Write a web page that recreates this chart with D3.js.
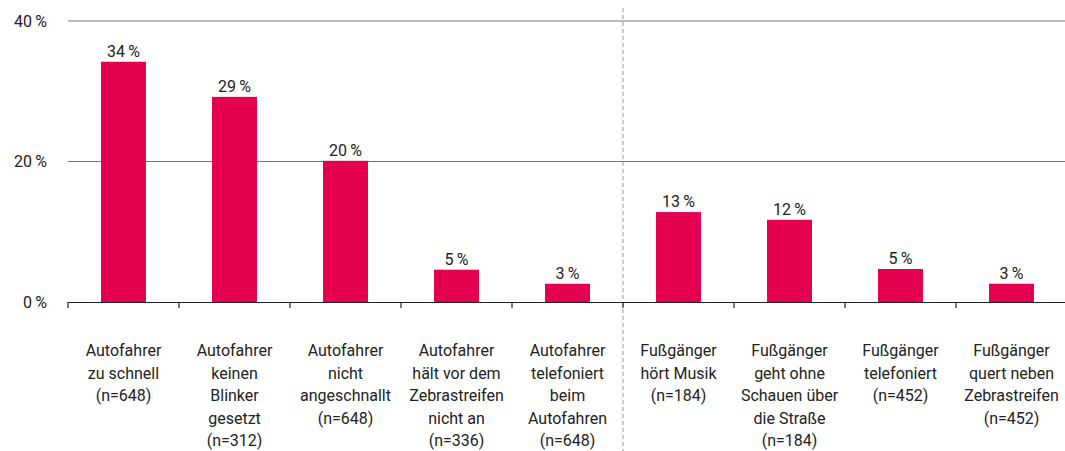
<!DOCTYPE html>
<html><head><meta charset="utf-8">
<script src="https://cdn.jsdelivr.net/npm/d3@7"></script>
<style>body{margin:0;background:#fff}svg text{font-family:Roboto,sans-serif;fill:#222}</style>
</head><body><svg id="c" width="1065" height="451"></svg>
<script>
const categories = [
  ["Autofahrer","zu schnell","(n=648)"],
  ["Autofahrer","keinen","Blinker","gesetzt","(n=312)"],
  ["Autofahrer","nicht","angeschnallt","(n=648)"],
  ["Autofahrer","hält vor dem","Zebrastreifen","nicht an","(n=336)"],
  ["Autofahrer","telefoniert","beim","Autofahren","(n=648)"],
  ["Fußgänger","hört Musik","(n=184)"],
  ["Fußgänger","geht ohne","Schauen über","die Straße","(n=184)"],
  ["Fußgänger","telefoniert","(n=452)"],
  ["Fußgänger","quert neben","Zebrastreifen","(n=452)"]
];
const values = [34.2, 29.2, 20.1, 4.6, 2.6, 12.8, 11.7, 4.7, 2.6];
const labels = ["34\u2009%","29\u2009%","20\u2009%","5\u2009%","3\u2009%","13\u2009%","12\u2009%","5\u2009%","3\u2009%"];
const yTicks = [0, 20, 40];
const dividerAfter = 5;

const svg = d3.select("#c");
const x0 = 68, x1 = 1067, yTop = 21, yBot = 302;
const idx = d3.range(values.length);
const x = d3.scaleBand().domain(idx).range([x0, x1]).paddingInner(0.595).paddingOuter(0.2975);
const xb = d3.scaleBand().domain(idx).range([x0, x1]);
const y = d3.scaleLinear().domain([0, 40]).range([yBot, yTop]);

// gridlines
svg.append("g").selectAll("line").data(yTicks.filter(d => d > 0)).join("line")
  .attr("x1", x0).attr("x2", 1065).attr("y1", d => y(d)).attr("y2", d => y(d))
  .attr("stroke", "#777").attr("stroke-width", 1);
// y labels
svg.append("g").selectAll("text").data(yTicks).join("text")
  .attr("x", 47).attr("y", d => y(d)).attr("dy", "0.35em").attr("text-anchor", "end")
  .attr("font-size", 16).text(d => d + "\u2009%");

// divider
svg.append("line").attr("x1", xb(dividerAfter)).attr("x2", xb(dividerAfter))
  .attr("y1", 8).attr("y2", 451).attr("stroke", "#bbb").attr("stroke-width", 1.5)
  .attr("stroke-dasharray", "4,3");

// bars
svg.append("g").selectAll("rect").data(idx).join("rect")
  .attr("x", i => x(i)).attr("width", x.bandwidth())
  .attr("y", i => y(values[i])).attr("height", i => yBot - y(values[i]))
  .attr("fill", "#e4004f");
svg.append("g").selectAll("text").data(idx).join("text")
  .attr("x", i => x(i) + x.bandwidth() / 2).attr("y", i => y(values[i]) - 5)
  .attr("text-anchor", "middle").attr("font-size", 16).text(i => labels[i]);

// x axis
svg.append("line").attr("x1", x0).attr("x2", 1065).attr("y1", yBot + 0.5).attr("y2", yBot + 0.5)
  .attr("stroke", "#222").attr("stroke-width", 1.2);
svg.append("g").selectAll("line").data(d3.range(values.length + 1)).join("line")
  .attr("x1", i => x0 + i * xb.step()).attr("x2", i => x0 + i * xb.step())
  .attr("y1", yBot).attr("y2", yBot + 6).attr("stroke", "#222").attr("stroke-width", 1.2);

const cat = svg.append("g").selectAll("text").data(idx).join("text")
  .attr("text-anchor", "middle").attr("font-size", 16);
cat.each(function(i) {
  const t = d3.select(this);
  categories[i].forEach((line, k) => {
    t.append("tspan").attr("x", xb(i) + xb.bandwidth() / 2).attr("y", 356 + k * 22.5).text(line);
  });
});
</script></body></html>
